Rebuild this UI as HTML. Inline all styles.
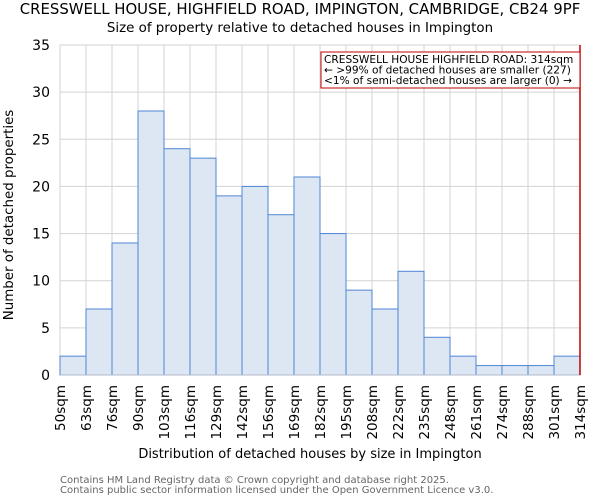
<!DOCTYPE html>
<html><head><meta charset="utf-8"><style>
body{margin:0;background:#fff;font-family:"DejaVu Sans","Liberation Sans",sans-serif}
</style></head><body>
<svg id="c" width="600" height="500" xmlns="http://www.w3.org/2000/svg" font-family="DejaVu Sans, Liberation Sans, sans-serif">
<text x="300" y="14" text-anchor="middle" font-size="14.9" fill="#000">CRESSWELL HOUSE, HIGHFIELD ROAD, IMPINGTON, CAMBRIDGE, CB24 9PF</text>
<text x="300" y="32" text-anchor="middle" font-size="13.4" fill="#000">Size of property relative to detached houses in Impington</text>
<g id="grid"></g><g id="bars"></g><g id="axes"></g>
<text x="310" y="458" text-anchor="middle" font-size="13">Distribution of detached houses by size in Impington</text>
<text transform="translate(13,215) rotate(-90)" text-anchor="middle" font-size="13.4">Number of detached properties</text>
<text x="60" y="483" font-size="10" fill="#666">Contains HM Land Registry data © Crown copyright and database right 2025.</text>
<text x="60" y="493" font-size="10" fill="#666">Contains public sector information licensed under the Open Government Licence v3.0.</text>
</svg>
<script>
const categories=["50sqm","63sqm","76sqm","90sqm","103sqm","116sqm","129sqm","142sqm","156sqm","169sqm","182sqm","195sqm","208sqm","222sqm","235sqm","248sqm","261sqm","274sqm","288sqm","301sqm","314sqm"];
const counts=[2,7,14,28,24,23,19,20,17,21,15,9,7,11,4,2,1,1,1,2];
const yTicks=[0,5,10,15,20,25,30,35];
const markerIndex=20;
const NS="http://www.w3.org/2000/svg";
const L=60,R=580,T=45,B=375,yMax=35;
const nb=counts.length;
const x=i=>L+(R-L)*i/nb;
const y=v=>B-(B-T)*v/yMax;
function mk(p,tag,a){const e=document.createElementNS(NS,tag);for(const k in a)e.setAttribute(k,a[k]);p.appendChild(e);return e;}
const grid=document.getElementById('grid'),bars=document.getElementById('bars'),axes=document.getElementById('axes');
yTicks.forEach(t=>{
 const g=mk(grid,'line',{x1:L,x2:R,y1:y(t),y2:y(t),stroke:'#d3d3d3','stroke-width':1});
 
 
 const tx=mk(axes,'text',{x:L-10,y:y(t)+5,'text-anchor':'end','font-size':14});
 tx.textContent=t;
 
 
});
categories.forEach((c,i)=>{
 const g=mk(grid,'line',{x1:x(i),x2:x(i),y1:T,y2:B,stroke:'#d3d3d3','stroke-width':1});
 
 
 const tx=mk(axes,'text',{transform:`translate(${x(i)+5},${B+10}) rotate(-90)`,'text-anchor':'end','font-size':13.5});
 tx.textContent=c;
 
 
});
counts.forEach((v,i)=>{
 const r=mk(bars,'rect',{x:x(i),y:y(v),width:x(i+1)-x(i),height:B-y(v),fill:'#dde6f3',stroke:'#4f86d6','stroke-width':1});
 
 
});
const ax=mk(axes,'line',{x1:L,x2:R,y1:B,y2:B,stroke:'#b0b8c8','stroke-width':1});


const mx=x(markerIndex);
const ml=mk(axes,'line',{x1:mx,x2:mx,y1:T,y2:B,stroke:'#c00000','stroke-width':1.5});


const box=mk(axes,'rect',{x:321,y:52,width:mx-321,height:36,fill:'#fff',stroke:'#c00000','stroke-width':1});


["CRESSWELL HOUSE HIGHFIELD ROAD: 314sqm","← >99% of detached houses are smaller (227)","<1% of semi-detached houses are larger (0) →"].forEach((s,i)=>{
 const t=mk(axes,'text',{x:324,y:63+i*10.5,'font-size':10.6});
 t.textContent=s;
 
 
});
</script>
</body></html>
